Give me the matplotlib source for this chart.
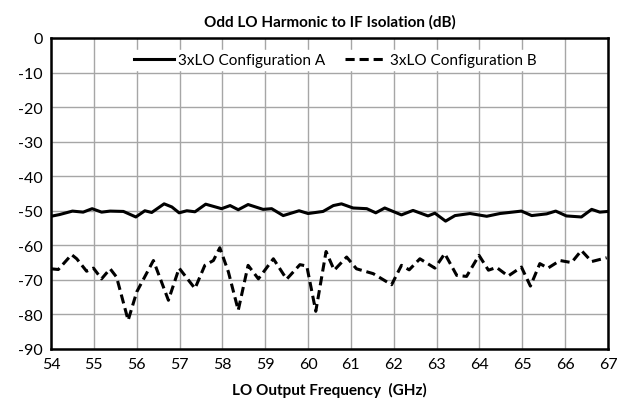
"""Odd LO harmonic to IF isolation vs LO output frequency, two configurations."""
import matplotlib
matplotlib.use("Agg")
import matplotlib.pyplot as plt

plt.rcParams["font.family"] = ["Lato", "DejaVu Sans"]
plt.rcParams["axes.unicode_minus"] = False

# Configuration A (solid)
freq_a = [54.0, 54.2, 54.5, 54.75, 54.96, 55.18, 55.38, 55.69, 55.98, 56.19,
          56.35, 56.64, 56.82, 56.99, 57.17, 57.36, 57.61, 57.98, 58.18, 58.37,
          58.6, 58.95, 59.15, 59.42, 59.79, 60.0, 60.35, 60.59, 60.78, 61.05,
          61.37, 61.58, 61.79, 62.18, 62.45, 62.8, 62.96, 63.21, 63.43, 63.78,
          64.17, 64.48, 64.98, 65.22, 65.57, 65.78, 66.03, 66.38, 66.62, 66.81,
          67.0]
iso_a = [-51.6, -51.1, -50.1, -50.4, -49.4, -50.4, -50.1, -50.2, -51.8, -50.0,
         -50.5, -48.0, -48.9, -50.6, -50.0, -50.3, -48.1, -49.4, -48.5, -49.7,
         -48.2, -49.6, -49.4, -51.4, -50.0, -50.8, -50.2, -48.5, -48.0, -49.2,
         -49.4, -50.6, -49.2, -51.2, -49.9, -51.5, -50.7, -53.0, -51.4, -50.8,
         -51.6, -50.8, -50.1, -51.4, -50.9, -50.1, -51.5, -51.8, -49.6, -50.4,
         -50.2]

# Configuration B (dashed)
freq_b = [54.0, 54.17, 54.48, 54.6, 54.83, 54.99, 55.18, 55.38, 55.53, 55.8,
          56.0, 56.39, 56.74, 56.99, 57.36, 57.59, 57.79, 57.94, 58.14, 58.37,
          58.6, 58.84, 59.19, 59.5, 59.81, 59.97, 60.18, 60.42, 60.61, 60.9,
          61.13, 61.52, 61.95, 62.18, 62.36, 62.61, 62.96, 63.19, 63.47, 63.7,
          63.99, 64.21, 64.4, 64.67, 64.98, 65.19, 65.41, 65.6, 65.88, 66.15,
          66.38, 66.62, 66.97]
iso_b = [-66.8, -67.0, -62.7, -63.9, -67.5, -66.6, -69.7, -66.8, -69.2, -81.7,
         -73.5, -64.4, -75.9, -66.6, -72.5, -65.8, -64.4, -60.7, -67.7, -78.8,
         -65.8, -69.7, -63.9, -69.8, -65.6, -66.0, -79.1, -61.8, -67.2, -63.4,
         -66.8, -68.2, -71.4, -65.8, -67.1, -63.9, -66.6, -62.4, -68.7, -69.0,
         -62.9, -67.2, -66.4, -68.9, -66.3, -71.8, -65.3, -66.6, -64.4, -65.0,
         -61.5, -64.7, -63.6]

fig = plt.figure(figsize=(6.3, 4.06), dpi=100)
ax = fig.add_axes([0.081, 0.138, 0.884, 0.766])

ax.plot(freq_a, iso_a, color="black", lw=2.2, label="3xLO Configuration A")
ax.plot(freq_b, iso_b, color="black", lw=2.2, ls=(0, (3, 1.6)),
        label="3xLO Configuration B")

ax.set_xlim(54, 67)
ax.set_ylim(-90, 0)
ax.set_xticks(range(54, 68))
ax.set_yticks(range(-90, 1, 10))
ax.grid(color="#a6a6a6", lw=1)
ax.set_axisbelow(True)
ax.tick_params(length=0, labelsize=11.5, pad=6)
for s in ax.spines.values():
    s.set_linewidth(1.8)

ax.set_title("Odd LO Harmonic to IF Isolation (dB)", fontsize=11,
             fontweight="bold", pad=9)
ax.set_xlabel("LO Output Frequency  (GHz)", fontsize=11, fontweight="bold",
              labelpad=8)

leg = ax.legend(loc="upper center", bbox_to_anchor=(0.51, 0.985), ncol=2,
                frameon=True, fontsize=11, handlelength=2.6, handletextpad=0.3,
                columnspacing=1.3, fancybox=False, borderpad=0.2)
leg.get_frame().set_edgecolor("white")
leg.get_frame().set_facecolor("white")
leg.get_frame().set_alpha(1)

fig.savefig("out.png", dpi=100)
